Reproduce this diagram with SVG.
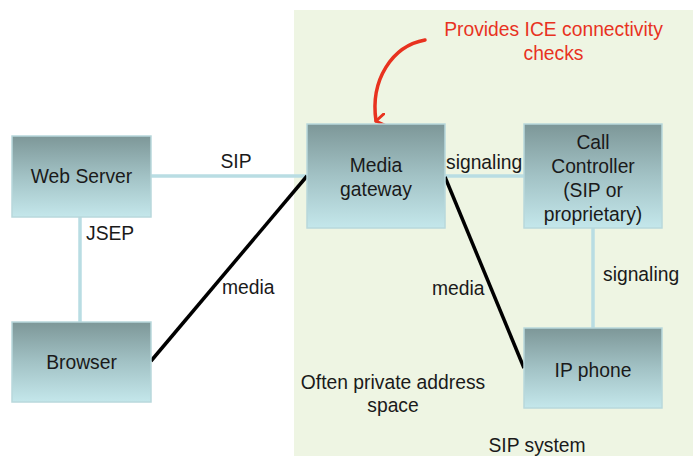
<svg xmlns="http://www.w3.org/2000/svg" width="693" height="456" viewBox="0 0 693 456">
  <defs>
    <linearGradient id="boxFill" x1="0" y1="0" x2="0" y2="1">
      <stop offset="0" stop-color="#7d9798"/>
      <stop offset="0.5" stop-color="#a2c2c5"/>
      <stop offset="1" stop-color="#c4e7eb"/>
    </linearGradient>
    <marker id="redHead" viewBox="0 0 14 12" refX="7" refY="10" markerWidth="14" markerHeight="12" markerUnits="userSpaceOnUse" orient="auto-start-reverse">
      <path d="M1 1 L7 10 L13 1" fill="none" stroke="#e8321f" stroke-width="3" stroke-linecap="round" stroke-linejoin="round"/>
    </marker>
    <style>
      .box { fill: url(#boxFill); stroke: #b8d8dc; stroke-width: 1.5; }
      .lbl { font-family: "Liberation Sans", Arial, sans-serif; font-size: 19.3px; fill: #1a1a1a; }
      .mid { text-anchor: middle; }
      .sig { stroke: #b9dde3; stroke-width: 3.5; fill: none; }
      .med { stroke: #000; stroke-width: 3.5; fill: none; }
      .note { font-family: "Liberation Sans", Arial, sans-serif; font-size: 19.3px; fill: #e8321f; text-anchor: middle; }
    </style>
  </defs>

  <rect width="693" height="456" fill="#ffffff"/>
  <!-- SIP system area -->
  <rect x="294" y="10" width="399" height="446" fill="#eef5e3"/>

  <!-- connectors -->
  <g id="connectors">
    <line class="sig" x1="151" y1="176" x2="307" y2="176"/>
    <line class="sig" x1="80" y1="217" x2="80" y2="322"/>
    <line class="sig" x1="445" y1="176" x2="524" y2="176"/>
    <line class="sig" x1="593" y1="228" x2="593" y2="328"/>
    <line class="med" x1="151" y1="361" x2="307" y2="176"/>
    <line class="med" x1="445" y1="177" x2="524" y2="368"/>
    <path d="M425 40 C392 46 370 80 376 121" fill="none" stroke="#e8321f" stroke-width="3.5" stroke-linecap="round" marker-end="url(#redHead)"/>
  </g>

  <g id="web-server">
    <rect class="box" x="12" y="136" width="139" height="81"/>
    <text class="lbl mid" x="81.5" y="183">Web Server</text>
  </g>

  <g id="browser">
    <rect class="box" x="12" y="322" width="139" height="80"/>
    <text class="lbl mid" x="81.5" y="369">Browser</text>
  </g>

  <g id="media-gateway">
    <rect class="box" x="307" y="124" width="138" height="104"/>
    <text class="lbl mid" x="376" y="172">Media</text>
    <text class="lbl mid" x="376" y="196">gateway</text>
  </g>

  <g id="call-controller">
    <rect class="box" x="524" y="124" width="138" height="104"/>
    <text class="lbl mid" x="593" y="149">Call</text>
    <text class="lbl mid" x="593" y="173">Controller</text>
    <text class="lbl mid" x="593" y="197">(SIP or</text>
    <text class="lbl mid" x="593" y="221">proprietary)</text>
  </g>

  <g id="ip-phone">
    <rect class="box" x="524" y="328" width="138" height="80"/>
    <text class="lbl mid" x="593" y="377">IP phone</text>
  </g>

  <!-- labels -->
  <g id="labels">
    <text class="lbl mid" x="236" y="168">SIP</text>
    <text class="lbl" x="86" y="240">JSEP</text>
    <text class="lbl" x="222" y="294">media</text>
    <text class="lbl" x="446" y="169">signaling</text>
    <text class="lbl" x="432" y="295">media</text>
    <text class="lbl" x="603" y="281">signaling</text>
    <text class="lbl mid" x="393" y="389">Often private address</text>
    <text class="lbl mid" x="393" y="412">space</text>
    <text class="lbl mid" x="537" y="452">SIP system</text>
    <text class="note" x="553.5" y="36">Provides ICE connectivity</text>
    <text class="note" x="553.5" y="60">checks</text>
  </g>
</svg>
